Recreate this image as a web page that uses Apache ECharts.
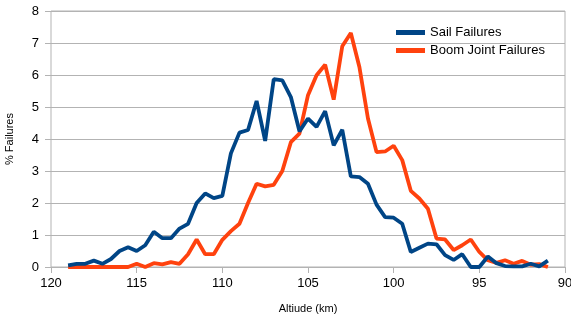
<!DOCTYPE html>
<html>
<head>
<meta charset="utf-8">
<script src="https://cdn.jsdelivr.net/npm/echarts@6/dist/echarts.min.js"></script>
<style>
  html, body { margin: 0; padding: 0; background: #fff; }
  #chart { width: 571px; height: 319px; }
</style>
</head>
<body>
<div id="chart"></div>
<script>
// altitude in km, 0.5 km steps from 119 down to 91
const altitudes = [
  119, 118.5, 118, 117.5, 117, 116.5, 116, 115.5, 115, 114.5,
  114, 113.5, 113, 112.5, 112, 111.5, 111, 110.5, 110, 109.5,
  109, 108.5, 108, 107.5, 107, 106.5, 106, 105.5, 105, 104.5,
  104, 103.5, 103, 102.5, 102, 101.5, 101, 100.5, 100, 99.5,
  99, 98.5, 98, 97.5, 97, 96.5, 96, 95.5, 95, 94.5,
  94, 93.5, 93, 92.5, 92, 91.5, 91
];
const sailFailures = [
  0.05, 0.1, 0.1, 0.2, 0.1, 0.25, 0.5, 0.62, 0.5, 0.68,
  1.1, 0.9, 0.9, 1.2, 1.35, 2.0, 2.3, 2.15, 2.22, 3.55,
  4.2, 4.28, 5.19, 3.94, 5.87, 5.83, 5.31, 4.24, 4.64, 4.38,
  4.87, 3.8, 4.29, 2.83, 2.81, 2.6, 1.95, 1.56, 1.54, 1.35,
  0.47, 0.6, 0.73, 0.71, 0.37, 0.22, 0.4, 0.0, 0.0, 0.33,
  0.12, 0.03, 0.02, 0.02, 0.1, 0.02, 0.2
];
const boomFailures = [
  0, 0, 0, 0, 0, 0, 0, 0, 0.1, 0.0,
  0.12, 0.08, 0.15, 0.1, 0.4, 0.86, 0.4, 0.4, 0.85, 1.12,
  1.35, 2.0, 2.6, 2.52, 2.57, 3.0, 3.9, 4.17, 5.37, 5.99,
  6.32, 5.23, 6.9, 7.31, 6.25, 4.64, 3.59, 3.61, 3.79, 3.34,
  2.38, 2.14, 1.82, 0.89, 0.86, 0.53, 0.68, 0.86, 0.47, 0.21,
  0.13, 0.21, 0.1, 0.19, 0.07, 0.09, 0
];
const seriesNames = ["Sail Failures", "Boom Joint Failures"];

let myChart = echarts.init(document.getElementById("chart"));

function pairs(vals) {
  return altitudes.map((a, i) => [a, vals[i]]);
}

myChart.setOption({
  animation: false,
  textStyle: { fontFamily: "Liberation Sans" },
  grid: {
    left: 51,
    right: 6,
    top: 11,
    bottom: 52,
    outerBoundsMode: "none",
    containLabel: false,
    show: true,
    borderColor: "#b3b3b3",
    borderWidth: 1
  },
  legend: {
    orient: "vertical",
    left: 391,
    top: 21,
    itemWidth: 29,
    itemHeight: 5,
    itemGap: 5,
    icon: "rect",
    textStyle: { fontSize: 13, color: "#000" },
    data: seriesNames
  },
  xAxis: {
    type: "value",
    inverse: true,
    min: 90,
    max: 120,
    interval: 5,
    name: "Altiude (km)",
    nameLocation: "middle",
    nameGap: 36,
    nameTextStyle: { fontSize: 11, color: "#000" },
    axisLine: { show: true, lineStyle: { color: "#b3b3b3" } },
    axisTick: { show: true, length: 6, lineStyle: { color: "#b3b3b3" } },
    axisLabel: { fontSize: 13, color: "#000", margin: 10 },
    splitLine: { show: false }
  },
  yAxis: {
    type: "value",
    min: 0,
    max: 8,
    interval: 1,
    name: "% Failures",
    nameLocation: "middle",
    nameRotate: 90,
    nameGap: 36,
    nameTextStyle: { fontSize: 11, color: "#000" },
    axisLine: { show: false },
    axisTick: { show: true, length: 6, lineStyle: { color: "#b3b3b3" } },
    axisLabel: { fontSize: 13, color: "#000", margin: 12 },
    splitLine: { lineStyle: { color: "#b3b3b3" } }
  },
  series: [
    {
      name: seriesNames[0],
      type: "line",
      data: pairs(sailFailures),
      showSymbol: false,
      z: 3,
      color: "#004586",
      lineStyle: { width: 3.8, color: "#004586" }
    },
    {
      name: seriesNames[1],
      type: "line",
      data: pairs(boomFailures),
      showSymbol: false,
      z: 2,
      color: "#ff420e",
      lineStyle: { width: 3.8, color: "#ff420e" }
    }
  ]
});
</script>
</body>
</html>
